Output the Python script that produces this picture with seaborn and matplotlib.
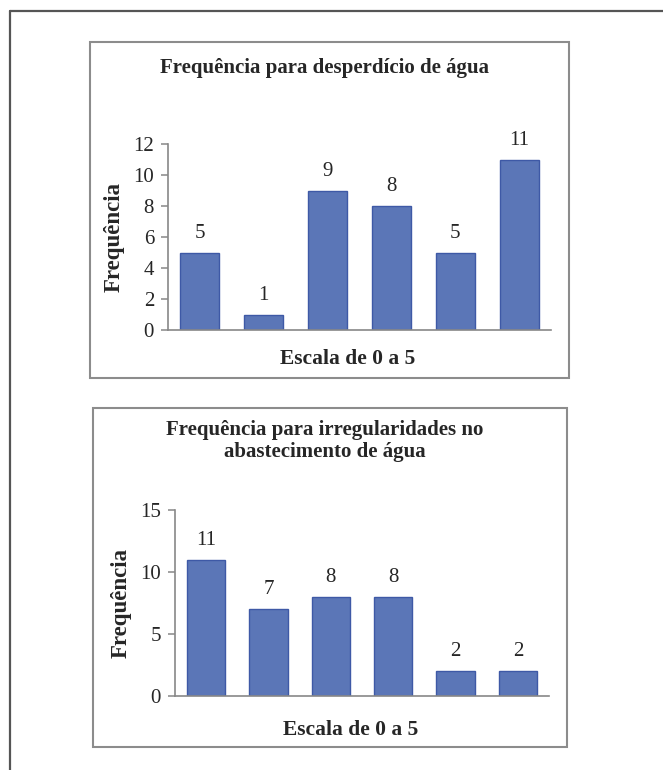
import matplotlib
matplotlib.use("Agg")
import matplotlib.pyplot as plt
import seaborn as sns
from matplotlib.patches import Rectangle
from matplotlib.lines import Line2D

sns.set_style("white")
plt.rcParams["font.family"] = ["Liberation Serif", "DejaVu Serif"]

# dados
escala = ["0", "1", "2", "3", "4", "5"]
desperdicio = [5, 1, 9, 8, 5, 11]
irregularidades = [11, 7, 8, 8, 2, 2]

W, H = 663, 770
fig = plt.figure(figsize=(W / 100, H / 100), dpi=100)
fig.patch.set_facecolor("white")


def px_box(x0, y0, x1, y1):
    # pixel box (top-left origin) -> figure fraction
    return [x0 / W, 1 - y1 / H, (x1 - x0) / W, (y1 - y0) / H]


# moldura externa (só topo e esquerda aparecem)
fig.add_artist(Line2D([10 / W, 1], [1 - 11 / H] * 2, color="#555555", lw=1.6,
                      transform=fig.transFigure))
fig.add_artist(Line2D([10 / W] * 2, [0, 1 - 11 / H], color="#555555", lw=1.6,
                      transform=fig.transFigure))

# caixas dos gráficos
for b in [px_box(90, 42, 569, 378), px_box(93, 408, 567, 747)]:
    fig.add_artist(Rectangle((b[0], b[1]), b[2], b[3], fill=False,
                             edgecolor="#8c8c8c", lw=1.5,
                             transform=fig.transFigure))

bar_color = "#5B76B7"
edge_color = "#3E59A6"


def draw(ax, values, ymax, ystep, xlab_y):
    sns.barplot(x=escala, y=values, color=bar_color, width=0.61,
                edgecolor=edge_color, linewidth=1.0, saturation=1, ax=ax)
    ax.set_ylim(0, ymax)
    ax.set_yticks(range(0, ymax + 1, ystep))
    ax.set_xlim(-0.5, len(escala) - 0.5)
    ax.set_xticks([])
    for s in ["top", "right"]:
        ax.spines[s].set_visible(False)
    for s in ["left", "bottom"]:
        ax.spines[s].set_color("#888888")
        ax.spines[s].set_linewidth(1.2)
    ax.tick_params(axis="y", which="both", left=True, length=5, width=1.1,
                   color="#888888", labelsize=15, pad=5)
    ax.set_xlabel("Escala de 0 a 5", fontsize=15.5, fontweight="bold")
    ax.xaxis.set_label_coords(0.47, xlab_y)
    ax.set_ylabel("Frequência", fontsize=16.5, fontweight="bold", labelpad=6)
    for i, v in enumerate(values):
        ax.annotate(str(v), (i, v), xytext=(0, 7), textcoords="offset points",
                    ha="center", va="bottom", fontsize=15)
    ax.patch.set_alpha(0)


ax1 = fig.add_axes(px_box(168, 144, 551, 330))
draw(ax1, desperdicio, 12, 2, -0.10)
fig.text(325 / W, 1 - 68 / H, "Frequência para desperdício de água",
         ha="center", va="center", fontsize=15, fontweight="bold")

ax2 = fig.add_axes(px_box(175, 510, 549, 696))
draw(ax2, irregularidades, 15, 5, -0.13)
fig.text(325 / W, 1 - 441 / H,
         "Frequência para irregularidades no\nabastecimento de água",
         ha="center", va="center", fontsize=15, fontweight="bold",
         linespacing=1.2)

fig.savefig("out.png", dpi=100, facecolor="white")
